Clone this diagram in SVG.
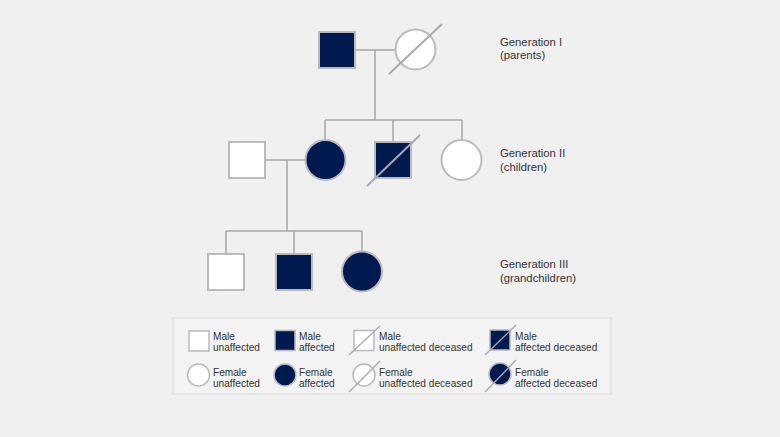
<svg xmlns="http://www.w3.org/2000/svg" width="780" height="437" viewBox="0 0 780 437">
<style>
.bg{fill:#f0f0f0}
.u{fill:#ffffff;stroke:#b9b9c0;stroke-width:2}
.a{fill:#001a50;stroke:#b9b9c0;stroke-width:2}
.lu{fill:#ffffff;stroke:#b9b9c0;stroke-width:1.5}
.la{fill:#001a50;stroke:#b9b9c0;stroke-width:1.5}
.ln{stroke:#a6a6a6;stroke-width:1.5;fill:none}
.dg{stroke:#a8a8b0;stroke-width:2;fill:none}
.ldg{stroke:#a8a8b0;stroke-width:1.3;fill:none}
.gen{font-family:"Liberation Sans",Arial,sans-serif;font-size:11.3px;fill:#333}
.leg{font-family:"Liberation Sans",Arial,sans-serif;font-size:10.1px;fill:#333}
</style>
<rect class="bg" x="0" y="0" width="780" height="437"/>

<g id="connectors">
<path class="ln" d="M356 50H395"/>
<path class="ln" d="M375 50V120"/>
<path class="ln" d="M325 120H462"/>
<path class="ln" d="M325 120V139M393 120V142M462 120V139"/>
<path class="ln" d="M265 160H305"/>
<path class="ln" d="M287 160V231"/>
<path class="ln" d="M226 231H362"/>
<path class="ln" d="M226 231V253M294 231V253M362 231V251"/>
</g>

<g id="g1-father"><rect class="a" x="319" y="32" width="36" height="36"/></g>
<g id="g1-mother"><circle class="u" cx="415.5" cy="49.5" r="20"/><line class="dg" x1="389" y1="74" x2="442" y2="24"/></g>

<g id="g2-husband"><rect class="u" x="229" y="142" width="36" height="36"/></g>
<g id="g2-daughter1"><circle class="a" cx="325.5" cy="160" r="20"/></g>
<g id="g2-son"><rect class="a" x="375" y="142" width="36" height="36"/><line class="dg" x1="367" y1="186" x2="420" y2="135"/></g>
<g id="g2-daughter2"><circle class="u" cx="461.5" cy="160" r="20"/></g>

<g id="g3-son1"><rect class="u" x="208" y="254" width="36" height="36"/></g>
<g id="g3-son2"><rect class="a" x="276" y="254" width="36" height="36"/></g>
<g id="g3-daughter"><circle class="a" cx="362" cy="271.5" r="20"/></g>

<g id="gen-labels">
<text class="gen" x="500" y="45.7">Generation I</text>
<text class="gen" x="500" y="58.5">(parents)</text>
<text class="gen" x="500" y="157.3">Generation II</text>
<text class="gen" x="500" y="170.5">(children)</text>
<text class="gen" x="500" y="268.3">Generation III</text>
<text class="gen" x="500" y="281.5">(grandchildren)</text>
</g>

<g id="legend">
<rect x="173" y="318" width="438" height="76" fill="#f3f3f3" stroke="#d9d9d9" stroke-width="1"/>
<rect class="lu" x="189" y="331" width="20" height="20"/>
<text class="leg" x="213" y="339.5">Male</text><text class="leg" x="213" y="351">unaffected</text>
<rect class="la" x="275" y="330.5" width="20" height="20"/>
<text class="leg" x="299" y="339.5">Male</text><text class="leg" x="299" y="351">affected</text>
<rect class="lu" x="354" y="330.5" width="20" height="20"/>
<line class="ldg" x1="349" y1="355" x2="380" y2="326"/>
<text class="leg" x="379" y="339.5">Male</text><text class="leg" x="379" y="351">unaffected deceased</text>
<rect class="la" x="490" y="330" width="20" height="20"/>
<line class="ldg" x1="485" y1="355" x2="516" y2="325"/>
<text class="leg" x="515" y="339.5">Male</text><text class="leg" x="515" y="351">affected deceased</text>

<circle class="lu" cx="198.5" cy="375" r="11"/>
<text class="leg" x="213" y="375.7">Female</text><text class="leg" x="213" y="387">unaffected</text>
<circle class="la" cx="285" cy="375" r="11"/>
<text class="leg" x="299" y="375.7">Female</text><text class="leg" x="299" y="387">affected</text>
<circle class="lu" cx="364" cy="375" r="11"/>
<line class="ldg" x1="349" y1="392" x2="380" y2="361"/>
<text class="leg" x="379" y="375.7">Female</text><text class="leg" x="379" y="387">unaffected deceased</text>
<circle class="la" cx="500" cy="374" r="11"/>
<line class="ldg" x1="485" y1="392" x2="516" y2="360"/>
<text class="leg" x="515" y="375.7">Female</text><text class="leg" x="515" y="387">affected deceased</text>
</g>
</svg>
